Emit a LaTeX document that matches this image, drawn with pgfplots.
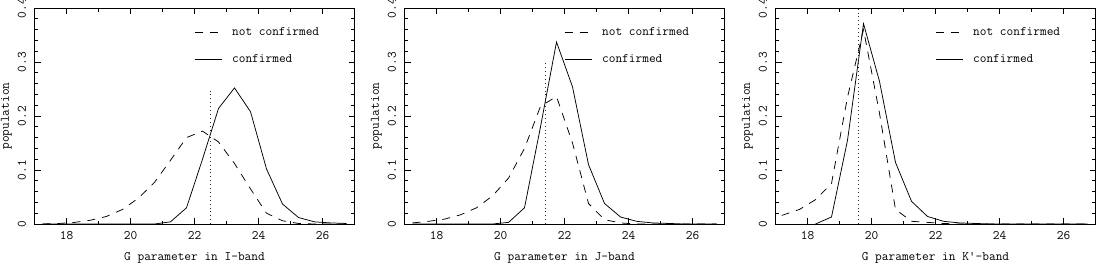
\documentclass[border=0pt]{standalone}
\usepackage{fontspec}
\usepackage{pgfplots}
\pgfplotsset{compat=1.18}
\newcommand{\pf}{\ttfamily\fontsize{13}{15}\selectfont}
\pgfplotsset{
  gpanel/.style={
    width=320pt, height=216pt, scale only axis,
    anchor=south west,
    xmin=17, xmax=27, ymin=0, ymax=0.4,
    xtick={18,20,22,24,26}, minor x tick num=1,
    ytick={0,0.1,0.2,0.3,0.4}, minor y tick num=4,
    scaled y ticks=false,
    tick label style={font=\pf},
    label style={font=\pf},
    yticklabel style={rotate=90, anchor=south, inner sep=0pt, outer sep=8.5pt, /pgf/number format/fixed, /pgf/number format/precision=1},
    xticklabel style={anchor=north, inner sep=0pt, outer sep=7pt},
    /pgf/number format/assume math mode=true,
    axis line style={line width=0.8pt},
    major tick length=6pt, minor tick length=3.5pt,
    every tick/.style={line width=0.7pt, black},
    ylabel=population,
    every axis y label/.style={at={(axis description cs:-0.088,0.5)}, rotate=90, anchor=center, font=\pf},
    every axis x label/.style={at={(axis description cs:0.5,-0.157)}, anchor=center, font=\pf},
  },
  conf/.style={black, line width=0.75pt, solid},
  nconf/.style={black, line width=0.75pt, dash pattern=on 8pt off 7pt},
  dotl/.style={black!85, line width=0.9pt, dash pattern=on 0.9pt off 3pt},
}
\newcommand{\legendbox}{%
  \addplot[nconf] coordinates {(22,0.355) (22.85,0.355)};
  \addplot[conf] coordinates {(22,0.305) (22.85,0.305)};
  \node[anchor=west, inner sep=0pt, font=\pf] at (axis cs:23.17,0.357) {not confirmed};
  \node[anchor=west, inner sep=0pt, font=\pf] at (axis cs:23.17,0.307) {confirmed};
}
\begin{document}
\begin{tikzpicture}
% Panel 1: I-band
\begin{axis}[gpanel, at={(0pt,0pt)}, xlabel={G parameter in I-band}]
\addplot[nconf] coordinates {(17.25,0) (17.75,0.001) (18.25,0.003) (18.75,0.007) (19.25,0.014) (19.75,0.027) (20.25,0.048) (20.75,0.077) (21.25,0.118) (21.75,0.16) (22.25,0.172) (22.75,0.152) (23.25,0.112) (23.75,0.065) (24.25,0.02) (24.75,0.006) (25.25,0.001) (25.75,0) (26.25,0) (26.75,0)};
\addplot[conf] coordinates {(17.25,0) (17.75,0) (18.25,0) (18.75,0) (19.25,0) (19.75,0) (20.25,0) (20.75,0) (21.25,0.004) (21.75,0.03) (22.25,0.12) (22.75,0.214) (23.25,0.252) (23.75,0.208) (24.25,0.102) (24.75,0.037) (25.25,0.012) (25.75,0.004) (26.25,0.002) (26.75,0.001)};
\addplot[dotl] coordinates {(22.5,0) (22.5,0.25)};
\legendbox
\end{axis}
% Panel 2: J-band
\begin{axis}[gpanel, at={(370pt,0pt)}, xlabel={G parameter in J-band}]
\addplot[nconf] coordinates {(17.25,0.002) (17.75,0.005) (18.25,0.009) (18.75,0.017) (19.25,0.03) (19.75,0.052) (20.25,0.085) (20.75,0.14) (21.25,0.218) (21.75,0.236) (22.25,0.15) (22.75,0.038) (23.25,0.008) (23.75,0.002) (24.25,0) (24.75,0) (25.25,0) (25.75,0) (26.25,0) (26.75,0)};
\addplot[conf] coordinates {(17.25,0) (17.75,0) (18.25,0) (18.75,0) (19.25,0) (19.75,0) (20.25,0.003) (20.75,0.03) (21.25,0.18) (21.75,0.337) (22.25,0.254) (22.75,0.11) (23.25,0.038) (23.75,0.013) (24.25,0.005) (24.75,0.002) (25.25,0.001) (25.75,0) (26.25,0) (26.75,0)};
\addplot[dotl] coordinates {(21.4,0) (21.4,0.3)};
\legendbox
\end{axis}
% Panel 3: K'-band
\begin{axis}[gpanel, at={(741pt,0pt)}, xlabel={G parameter in K'-band}]
\addplot[nconf] coordinates {(16.75,0.007) (17.25,0.017) (17.75,0.027) (18.25,0.045) (18.75,0.075) (19.25,0.235) (19.75,0.36) (20.25,0.205) (20.75,0.027) (21.25,0.005) (21.75,0.003) (22.25,0.001) (22.75,0) (23.25,0) (23.75,0) (24.25,0) (24.75,0) (25.25,0) (25.75,0) (26.25,0) (26.75,0)};
\addplot[conf] coordinates {(18.25,0) (18.75,0.013) (19.25,0.155) (19.75,0.371) (20.25,0.264) (20.75,0.114) (21.25,0.042) (21.75,0.014) (22.25,0.005) (22.75,0.002) (23.25,0.001) (23.75,0) (24.25,0) (24.75,0) (25.25,0) (25.75,0) (26.25,0) (26.75,0)};
\addplot[dotl] coordinates {(19.6,0) (19.6,0.4)};
\legendbox
\end{axis}
\pgfresetboundingbox
\path (-34.5pt,-42pt) rectangle (1062.5pt,224pt);
\end{tikzpicture}
\end{document}
